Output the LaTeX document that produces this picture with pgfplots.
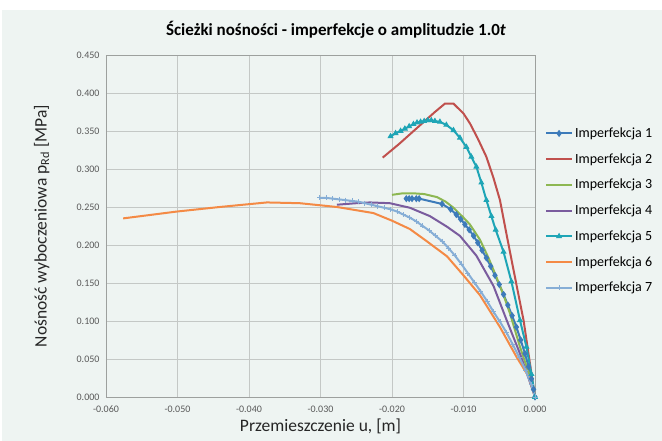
\documentclass[border=0pt]{standalone}
\usepackage{pgfplots}
\pgfplotsset{compat=1.18}
\usepackage{fontspec}
\setmainfont{Carlito}
\definecolor{bgc}{HTML}{EEF4F2}
\definecolor{c1}{HTML}{3D7BBA}
\definecolor{c2}{HTML}{C0504D}
\definecolor{c3}{HTML}{8DB752}
\definecolor{c4}{HTML}{7A5C9E}
\definecolor{c5}{HTML}{1EA5B6}
\definecolor{c6}{HTML}{F48A45}
\definecolor{c7}{HTML}{86AED6}
\definecolor{gridc}{HTML}{C4C8C6}
\definecolor{tickc}{HTML}{595959}
\begin{document}
\begin{tikzpicture}[x=1pt,y=1pt]
\fill[white] (0,0) rectangle (662,441);
\fill[bgc] (2,0) rectangle (662,431);
\node[font=\bfseries\fontsize{17}{20}\selectfont] at (336,411) {Ścieżki nośności - imperfekcje o amplitudzie 1.0\textit{t}};
\begin{axis}[
  at={(106pt,44pt)}, anchor=south west,
  scale only axis, width=429pt, height=342pt,
  xmin=-0.06, xmax=0, ymin=0, ymax=0.45,
  xtick={-0.06,-0.05,...,0.001}, ytick={0,0.05,...,0.451},
  grid=major, major grid style={gridc, line width=0.8pt},
  axis line style={gridc!80!black, line width=0.8pt},
  major tick length=0pt,
  /pgf/number format/assume math mode=true,
  /pgf/number format/.cd, fixed, fixed zerofill, precision=3, /tikz/.cd,
  scaled ticks=false,
  tick label style={font=\fontsize{10}{11}\selectfont, text=tickc},
  yticklabel style={xshift=-3pt},
  xticklabel style={yshift=-5pt},
  xlabel={Przemieszczenie u, [m]},
  ylabel={Nośność wyboczeniowa p\textsubscript{Rd} [MPa]},
  label style={font=\fontsize{17.5}{20}\selectfont, text=black!85},
  xlabel style={at={(0.5,-0.055)}, anchor=north},
  ylabel style={at={(-0.15,0.5)}, anchor=center},
  legend style={at={(1.023,0.545)}, anchor=west, draw=bgc, fill=bgc,
    font=\fontsize{14}{16}\selectfont, row sep=10.5pt, inner sep=0pt,
    /tikz/every even column/.append style={column sep=1pt}},
  legend image code/.code={\draw[mark repeat=2,mark phase=2,#1] plot coordinates {(0pt,0pt)(13pt,0pt)(26pt,0pt)};},
  every axis plot/.append style={line width=2pt},
]
\addplot[c1, mark=diamond*, mark size=2.8pt, mark options={line width=1pt}] coordinates {
(-0.0180,0.261)(-0.0176,0.261)(-0.0172,0.261)(-0.0166,0.261)(-0.0162,0.261)(-0.0130,0.254)(-0.0118,0.247)(-0.0110,0.240)(-0.0104,0.234)(-0.0098,0.227)(-0.0092,0.220)(-0.0086,0.212)(-0.0080,0.203)(-0.0074,0.193)(-0.0068,0.183)(-0.0062,0.172)(-0.0056,0.160)(-0.0050,0.148)(-0.0044,0.135)(-0.0038,0.121)(-0.0032,0.107)(-0.0026,0.092)(-0.0020,0.075)(-0.0014,0.057)(-0.0009,0.040)(-0.0005,0.024)(-0.0002,0.010)(0,0)};
\addlegendentry{Imperfekcja 1}
\addplot[c2, no marks] coordinates {
(-0.0213,0.315)(-0.0190,0.333)(-0.0165,0.354)(-0.0140,0.375)(-0.0126,0.386)(-0.0114,0.386)(-0.0100,0.373)(-0.0091,0.360)(-0.0080,0.340)(-0.0068,0.316)(-0.0058,0.288)(-0.0049,0.259)(-0.0040,0.215)(-0.0030,0.167)(-0.0016,0.101)(-0.0005,0.031)(0,0)};
\addlegendentry{Imperfekcja 2}
\addplot[c3, no marks] coordinates {
(-0.0200,0.266)(-0.0185,0.268)(-0.0170,0.268)(-0.0155,0.267)(-0.0137,0.263)(-0.0125,0.257)(-0.0114,0.249)(-0.0100,0.236)(-0.0091,0.227)(-0.0077,0.207)(-0.0065,0.183)(-0.0054,0.158)(-0.0044,0.134)(-0.0035,0.110)(-0.0021,0.066)(-0.0007,0.027)(0,0)};
\addlegendentry{Imperfekcja 3}
\addplot[c4, no marks] coordinates {
(-0.0277,0.253)(-0.0250,0.255)(-0.0231,0.256)(-0.0203,0.255)(-0.0175,0.249)(-0.0147,0.238)(-0.0123,0.224)(-0.0105,0.212)(-0.0082,0.186)(-0.0058,0.146)(-0.0040,0.102)(-0.0021,0.057)(-0.0008,0.022)(0,0)};
\addlegendentry{Imperfekcja 4}
\addplot[c5, mark=triangle*, mark size=2.6pt, mark options={line width=1pt}] coordinates {
(-0.0202,0.343)(-0.0195,0.347)(-0.0188,0.350)(-0.0182,0.353)(-0.0176,0.356)(-0.0170,0.359)(-0.0165,0.361)(-0.0160,0.362)(-0.0155,0.363)(-0.0150,0.364)(-0.0145,0.364)(-0.0140,0.363)(-0.0133,0.362)(-0.0124,0.358)(-0.0114,0.351)(-0.0105,0.341)(-0.0096,0.329)(-0.0089,0.316)(-0.0082,0.303)(-0.0075,0.282)(-0.0068,0.259)(-0.0061,0.238)(-0.0055,0.220)(-0.0044,0.191)(-0.0033,0.152)(-0.0021,0.101)(-0.0012,0.066)(-0.0005,0.030)(0,0)};
\addlegendentry{Imperfekcja 5}
\addplot[c6, no marks] coordinates {
(-0.0576,0.235)(-0.0501,0.244)(-0.0441,0.250)(-0.0375,0.256)(-0.0329,0.255)(-0.0277,0.250)(-0.0226,0.242)(-0.0200,0.232)(-0.0175,0.221)(-0.0150,0.204)(-0.0123,0.185)(-0.0100,0.160)(-0.0077,0.134)(-0.0049,0.092)(-0.0026,0.053)(-0.0009,0.027)(0,0)};
\addlegendentry{Imperfekcja 6}
\addplot[c7, mark=+, mark size=2.5pt, mark options={line width=0.8pt}] coordinates {
(-0.0301,0.262)(-0.0292,0.262)(-0.0283,0.261)(-0.0274,0.260)(-0.0265,0.259)(-0.0256,0.258)(-0.0247,0.257)(-0.0238,0.255)(-0.0229,0.253)(-0.0220,0.251)(-0.0211,0.249)(-0.0202,0.247)(-0.0193,0.244)(-0.0184,0.240)(-0.0175,0.236)(-0.0166,0.231)(-0.0157,0.225)(-0.0148,0.219)(-0.0139,0.212)(-0.0130,0.205)(-0.0121,0.196)(-0.0112,0.186)(-0.0103,0.175)(-0.0094,0.163)(-0.0085,0.151)(-0.0076,0.139)(-0.0067,0.126)(-0.0058,0.112)(-0.0049,0.099)(-0.0040,0.085)(-0.0031,0.069)(-0.0022,0.052)(-0.0013,0.035)(-0.0005,0.016)(0,0)};
\addlegendentry{Imperfekcja 7}
\end{axis}
\end{tikzpicture}
\end{document}
